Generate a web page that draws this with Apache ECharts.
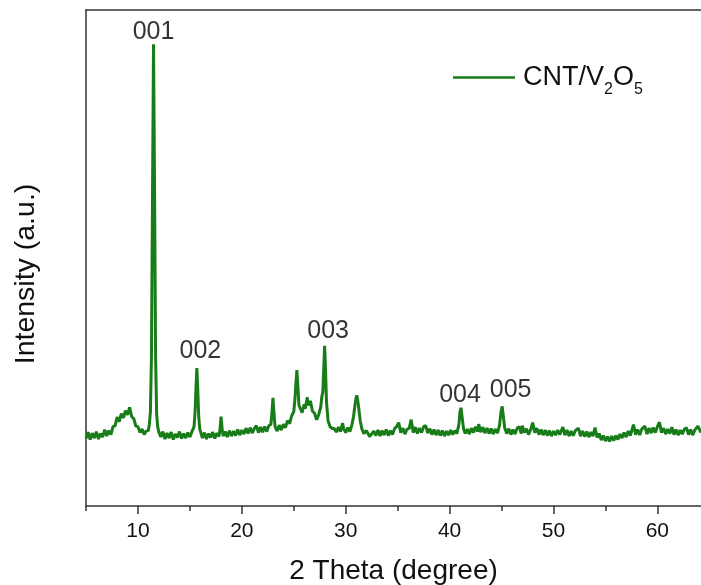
<!DOCTYPE html>
<html>
<head>
<meta charset="utf-8">
<script src="https://cdn.jsdelivr.net/npm/echarts@6/dist/echarts.min.js"></script>
<style>
html,body{margin:0;padding:0;background:#fff;}
#chart{width:701px;height:585px;}
</style>
</head>
<body>
<div id="chart"></div>
<script>
// ---- data (2 Theta in degrees, intensity in arbitrary units) ----
var theta = [
  5.0,5.2,5.4,5.6,5.8,6.0,6.2,6.4,6.6,6.8,7.0,7.2,7.4,7.6,7.8,8.0,8.2,8.4,8.6,8.8,
  9.0,9.2,9.4,9.6,9.8,10.0,10.2,10.4,10.6,10.8,
  11.0,11.1,11.2,11.3,11.4,11.5,11.6,11.7,11.8,11.9,12.0,
  12.2,12.4,12.6,12.8,13.0,13.2,13.4,13.6,13.8,14.0,14.2,14.4,14.6,14.8,15.0,15.2,
  15.4,15.5,15.6,15.67,15.75,15.85,15.95,16.1,
  16.2,16.4,16.6,16.8,17.0,17.2,17.4,17.6,17.8,17.9,18.0,18.1,18.2,18.4,18.6,18.8,
  19.0,19.2,19.4,19.6,19.8,20.0,20.2,20.4,20.6,20.8,21.0,21.2,21.4,21.6,21.8,22.0,
  22.2,22.4,22.6,22.8,22.9,23.0,23.1,23.2,23.4,23.6,23.8,24.0,24.2,24.4,24.6,24.8,
  25.0,25.1,25.2,25.3,25.4,25.5,25.6,25.8,26.0,26.1,26.3,26.4,26.6,26.8,27.0,27.2,
  27.4,27.6,27.7,27.8,27.9,27.97,28.05,28.15,28.3,28.5,28.7,28.9,29.1,29.3,29.5,29.7,
  29.8,30.0,30.2,30.4,30.6,30.75,30.9,31.0,31.06,31.15,31.25,31.4,31.55,31.75,32.0,32.3,
  32.7,32.9,33.1,33.3,33.5,33.7,33.9,34.1,34.3,34.5,34.7,34.9,35.1,35.3,35.5,35.7,
  35.9,36.1,36.3,36.5,36.7,36.9,37.1,37.3,37.5,37.7,37.9,38.1,38.3,38.5,38.7,38.9,
  39.1,39.3,39.5,39.7,39.9,40.1,40.3,40.5,40.7,40.9,41.0,41.1,41.2,41.35,41.5,41.7,
  41.9,42.1,42.3,42.5,42.7,42.8,43.0,43.2,43.4,43.6,43.8,44.0,44.2,44.4,44.6,44.8,
  44.95,45.06,45.15,45.3,45.5,45.7,45.9,46.1,46.3,46.5,46.7,46.9,47.0,47.2,47.4,47.6,
  47.8,48.0,48.2,48.4,48.6,48.8,49.0,49.2,49.4,49.6,49.8,50.0,50.2,50.4,50.6,50.9,
  51.1,51.3,51.5,51.7,51.9,52.1,52.4,52.6,52.8,53.0,53.2,53.4,53.6,53.8,54.0,54.2,
  54.4,54.6,54.8,55.0,55.2,55.4,55.6,55.8,56.0,56.2,56.4,56.6,56.8,57.0,57.2,57.4,
  57.7,57.9,58.1,58.3,58.5,58.8,59.0,59.2,59.4,59.6,59.8,60.0,60.2,60.4,60.6,60.8,
  61.0,61.2,61.4,61.6,61.8,62.0,62.2,62.4,62.6,62.8,63.0,63.2,63.4,63.6,63.9,64.2
];
var intensity = [
  136,149,134,147,137,150,135,146,139,154,141,152,144,160,162,179,170,186,178,192,
  184,199,180,176,161,160,148,155,144,151,
  152,165,190,300,620,931,640,300,185,160,150,
  139,150,135,147,137,149,134,145,138,150,136,146,137,148,139,150,
  160,190,245,278,240,180,155,145,
  137,148,135,146,138,149,136,147,140,155,180,156,141,150,139,152,
  141,151,142,154,143,153,145,157,146,158,147,156,162,148,159,149,
  160,150,162,165,188,218,185,160,151,163,153,165,158,172,166,182,
  190,212,245,274,240,203,198,188,205,196,219,203,212,191,187,174,
  184,200,220,230,285,323,280,210,172,160,156,156,149,159,150,167,
  156,148,158,150,164,180,205,218,223,214,198,172,156,146,152,140,
  151,142,153,141,152,143,154,142,152,144,156,160,168,148,157,145,
  155,156,174,148,159,146,157,148,160,162,147,156,144,154,143,153,
  142,152,141,151,143,153,144,152,146,165,190,198,180,155,146,155,
  145,157,148,160,150,165,149,159,147,157,146,156,145,155,147,162,
  190,201,185,158,146,156,144,154,145,157,160,146,162,148,156,144,
  154,168,148,157,144,154,143,153,142,152,141,151,143,153,144,159,
  143,153,141,151,142,152,157,141,151,140,150,139,149,141,158,138,
  146,133,142,131,140,130,141,132,142,134,145,137,148,139,151,142,
  164,144,154,143,155,161,145,157,147,158,148,160,169,148,157,145,
  155,146,159,144,154,143,153,145,155,158,144,154,143,153,161,148
];
var seriesName = 'CNT/V2O5';
var peakTheta = [11.5, 15.67, 27.97, 41.1, 45.06];
var peakIntensity = [931, 278, 323, 198, 201];
var peakNames = ['001', '002', '003', '004', '005'];
var majorTicks = [10, 20, 30, 40, 50, 60];
var minorTicks = [5, 15, 25, 35, 45, 55];

// ---- styling (not data) ----
var labelOffsets = [[0, 0], [3.5, -5], [3.5, -2], [-1, 0], [8.5, -4]];
var FONT = '"Liberation Sans", Arial, sans-serif';
var AX = '#333333';
var GREEN = '#187c18';

var lineData = theta.map(function (t, i) { return [t, intensity[i]]; });
var peakData = peakTheta.map(function (t, i) {
  return {
    value: [t, peakIntensity[i]],
    name: peakNames[i],
    label: { offset: labelOffsets[i] }
  };
});

var chart = echarts.init(document.getElementById('chart'), null, { renderer: 'canvas' });
chart.setOption({
  animation: false,
  backgroundColor: '#ffffff',
  textStyle: { fontFamily: FONT },
  grid: { left: 86, right: 0, top: 10, bottom: 79, containLabel: false, outerBoundsMode: 'none' },
  legend: {
    show: true,
    data: [seriesName],
    left: 453,
    top: 64,
    padding: 0,
    icon: 'rect',
    itemWidth: 62,
    itemHeight: 2.5,
    itemGap: 0,
    selectedMode: false,
    formatter: function () { return '{p|CNT/V}{s|2}{a|O}{s|5}'; },
    textStyle: {
      color: '#111',
      fontFamily: FONT,
      rich: {
        p: { fontSize: 27, lineHeight: 40, fontFamily: FONT, color: '#111', padding: [0, 0, 0, 3] },
        a: { fontSize: 27, lineHeight: 40, fontFamily: FONT, color: '#111' },
        s: { fontSize: 16, lineHeight: 16, verticalAlign: 'bottom', fontFamily: FONT, color: '#111' }
      }
    }
  },
  xAxis: [
    {
      type: 'value', gridIndex: 0, position: 'bottom',
      min: 5, max: 64.2, interval: 5,
      name: '2 Theta (degree)', nameLocation: 'middle', nameGap: 51,
      nameTextStyle: { fontSize: 28, color: '#111', fontFamily: FONT },
      axisLine: { show: true, onZero: false, lineStyle: { color: AX, width: 1.5 } },
      axisTick: { show: true, inside: false, length: 8, customValues: majorTicks, lineStyle: { color: AX, width: 1.5 } },
      axisLabel: { show: true, margin: 15, fontSize: 21, color: '#111', fontFamily: FONT, customValues: majorTicks },
      splitLine: { show: false }
    },
    {
      type: 'value', gridIndex: 0, position: 'bottom',
      min: 5, max: 64.2, interval: 5,
      axisLine: { show: false, onZero: false },
      axisTick: { show: true, inside: false, length: 5, customValues: minorTicks, lineStyle: { color: AX, width: 1.5 } },
      axisLabel: { show: false },
      splitLine: { show: false }
    },
    {
      type: 'value', gridIndex: 0, position: 'top',
      min: 5, max: 64.2,
      axisLine: { show: true, onZero: false, lineStyle: { color: AX, width: 1.5 } },
      axisTick: { show: false },
      axisLabel: { show: false },
      splitLine: { show: false }
    }
  ],
  yAxis: {
    type: 'value', min: 0, max: 1000,
    name: 'Intensity (a.u.)', nameLocation: 'middle', nameGap: 45, nameRotate: 90,
    nameTextStyle: { fontSize: 28.5, color: '#111', fontFamily: FONT, padding: [0, 32, 0, 0] },
    axisLine: { show: true, onZero: false, lineStyle: { color: AX, width: 1.5 } },
    axisTick: { show: false },
    axisLabel: { show: false },
    splitLine: { show: false }
  },
  series: [
    {
      name: seriesName,
      type: 'line',
      xAxisIndex: 0,
      data: lineData,
      showSymbol: false,
      symbol: 'none',
      itemStyle: { color: GREEN },
      lineStyle: { color: GREEN, width: 3 },
      z: 3
    },
    {
      name: 'peaks',
      type: 'scatter',
      xAxisIndex: 0,
      data: peakData,
      symbolSize: 0,
      silent: true,
      label: {
        show: true,
        position: 'top',
        distance: 0,
        formatter: '{b}',
        fontSize: 25,
        color: '#000',
        fontFamily: FONT
      },
      z: 4
    }
  ]
});
</script>
</body>
</html>
